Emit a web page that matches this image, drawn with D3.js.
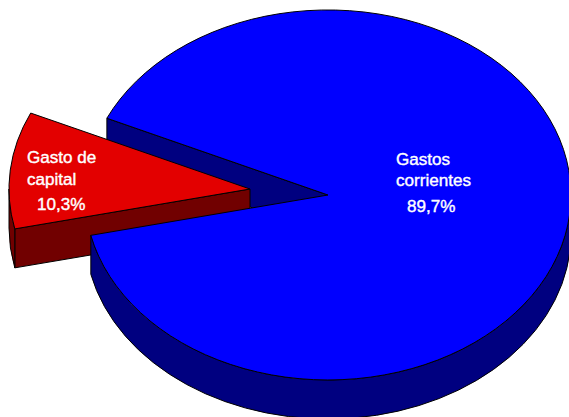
<!DOCTYPE html>
<html><head><meta charset="utf-8">
<script src="https://cdn.jsdelivr.net/npm/d3@7"></script>
<style>html,body{margin:0;padding:0;background:#fff}svg{display:block}
text{font-family:"Liberation Sans",Arial,sans-serif;font-size:17.1px;fill:#fff;stroke:#fff;stroke-width:.4px}</style>
</head><body><script>
const categories = ["Gastos corrientes", "Gasto de capital"];
const values = [89.7, 10.3];
const valueLabels = ["89,7%", "10,3%"];
const labelLines = [["Gastos", "corrientes"], ["Gasto de", "capital"]];

const W = 569, H = 417;
const RADII = [[243, 185], [241, 183]];
const DEPTH = 39;
const CX = 328, CY = 195;
const EXPLODE = [[0, 0], [-78, -6]];
const COL = { top: ["#0000ff", "#e30000"], side: ["#000080", "#710000"] };
const LABEL_POS = [[[396, 165], [396, 186], [407, 212]], [[27, 163], [27, 185], [37, 210]]];

const svg = d3.select("body").append("svg").attr("width", W).attr("height", H);
const startA = 294.5 * Math.PI / 180;
const arcs = d3.pie().sort(null).startAngle(startA).endAngle(startA + 2 * Math.PI)(values);
const unitArc = d3.arc().innerRadius(0).outerRadius(1);

const pt = (a, i, dy = 0) => [
  CX + EXPLODE[i][0] + RADII[i][0] * Math.sin(a),
  CY + EXPLODE[i][1] - RADII[i][1] * Math.cos(a) + dy
];
function rimWall(a0, a1, i) {
  const [rx, ry] = RADII[i];
  const p0 = pt(a0, i), p1 = pt(a1, i), p2 = pt(a1, i, DEPTH), p3 = pt(a0, i, DEPTH);
  const large = a1 - a0 > Math.PI ? 1 : 0;
  return `M${p0}A${rx} ${ry} 0 ${large} 1 ${p1}L${p2}A${rx} ${ry} 0 ${large} 0 ${p3}Z`;
}
function edgeWall(a, i) {
  const c = [CX + EXPLODE[i][0], CY + EXPLODE[i][1]];
  const p = pt(a, i);
  return `M${p}L${c}L${c[0]},${c[1] + DEPTH}L${p[0]},${p[1] + DEPTH}Z`;
}
const drawWall = (d, i) => svg.append("path").attr("d", d).attr("fill", COL.side[i])
  .attr("stroke", "#000").attr("stroke-width", 1).attr("stroke-linejoin", "round");
const drawTop = (i) => svg.append("path").attr("d", unitArc(arcs[i]))
  .attr("transform", `translate(${CX + EXPLODE[i][0]},${CY + EXPLODE[i][1]}) scale(${RADII[i][0]},${RADII[i][1]})`)
  .attr("fill", COL.top[i]).attr("stroke", "#000").attr("stroke-width", 1)
  .attr("vector-effect", "non-scaling-stroke").attr("stroke-linejoin", "round");

// blue inner cut face, behind the red slice
drawWall(edgeWall(arcs[0].startAngle, 0), 0);
// red slice
drawWall(edgeWall(arcs[1].startAngle, 1), 1);
drawWall(rimWall(arcs[1].startAngle, 1.5 * Math.PI, 1), 1);
drawTop(1);
// blue rim and top
drawWall(rimWall(2.5 * Math.PI, arcs[0].endAngle, 0), 0);
drawTop(0);

arcs.forEach((a, i) => {
  const lines = labelLines[i].concat(valueLabels[i]);
  svg.append("g").selectAll("text").data(lines).join("text")
    .attr("x", (d, j) => LABEL_POS[i][j][0])
    .attr("y", (d, j) => LABEL_POS[i][j][1])
    .text(d => d);
});
</script></body></html>
